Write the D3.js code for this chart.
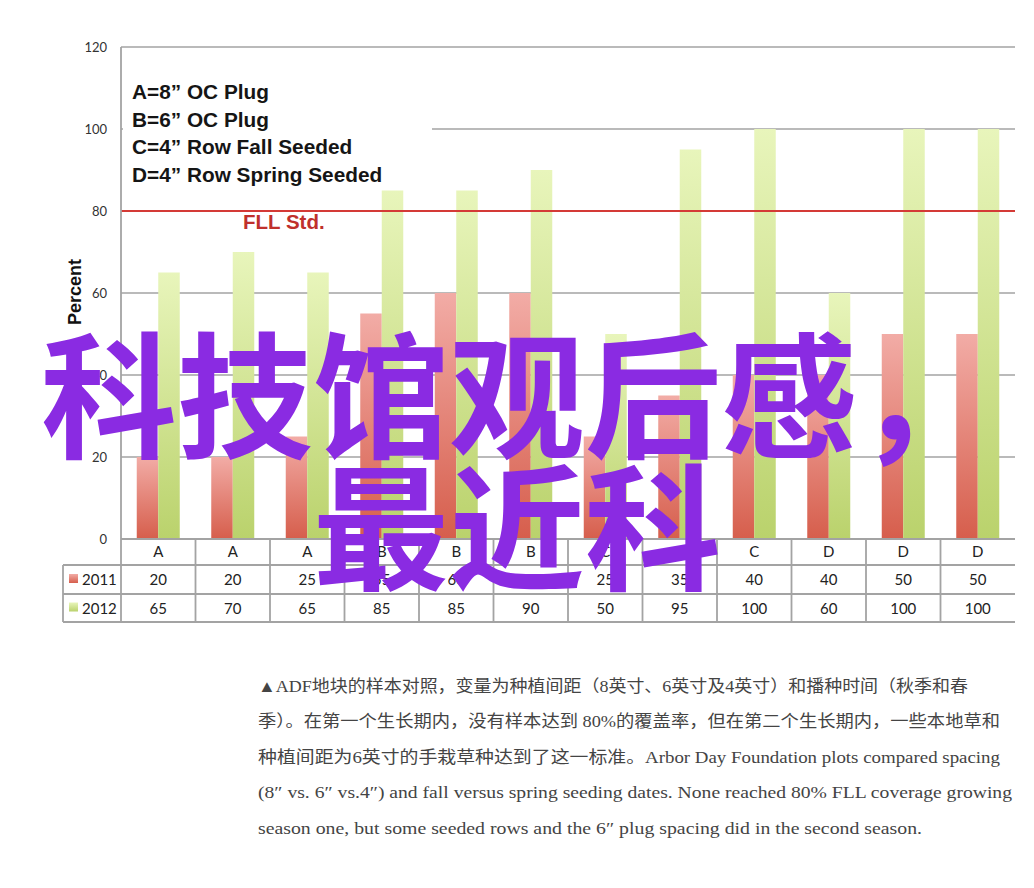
<!DOCTYPE html>
<html>
<head>
<meta charset="utf-8">
<script src="https://cdn.jsdelivr.net/npm/d3@7"></script>
<style>
  html, body { margin: 0; padding: 0; background: #fff; }
  svg { display: block; }
</style>
</head>
<body>
<div id="chart"></div>
<script>
// ---------- data ----------
const categories = ["A", "A", "A", "B", "B", "B", "C", "C", "C", "D", "D", "D"];
const seriesNames = ["2011", "2012"];
const values2011 = [20, 20, 25, 55, 60, 60, 25, 35, 40, 40, 50, 50];
const values2012 = [65, 70, 65, 85, 85, 90, 50, 95, 100, 60, 100, 100];
const yTicks = [0, 20, 40, 60, 80, 100, 120];
const fllStd = 80;
const fllLabel = "FLL Std.";
const yLabel = "Percent";
const legendLines = [
  "A=8\u201D OC Plug",
  "B=6\u201D OC Plug",
  "C=4\u201D Row Fall Seeded",
  "D=4\u201D Row Spring Seeded"
];
const overlayLines = ["科技馆观后感，", "最近科"];
const captionLines = [
  "▲ADF地块的样本对照，变量为种植间距（8英寸、6英寸及4英寸）和播种时间（秋季和春",
  "季）。在第一个生长期内，没有样本达到 80%的覆盖率，但在第二个生长期内，一些本地草和",
  "种植间距为6英寸的手栽草种达到了这一标准。Arbor Day Foundation plots compared spacing",
  "(8\u2033 vs. 6\u2033 vs.4\u2033) and fall versus spring seeding dates. None reached 80% FLL coverage growing",
  "season one, but some seeded rows and the 6\u2033 plug spacing did in the second season."
];
const captionWidths = [710, 742, 742, 754, 664];

// ---------- layout ----------
const W = 1034, H = 888;
const plotL = 121, plotR = 1015, plotT = 47, plotB = 539;
const tableL = 63, rowH1 = 565, rowH2 = 594, rowH3 = 622;

const svg = d3.select("#chart").append("svg")
  .attr("width", W).attr("height", H);

const defs = svg.append("defs");
const gRed = defs.append("linearGradient").attr("id", "gRed")
  .attr("x1", 0).attr("y1", 0).attr("x2", 0).attr("y2", 1);
gRed.append("stop").attr("offset", "0%").attr("stop-color", "#f2aca6");
gRed.append("stop").attr("offset", "100%").attr("stop-color", "#d65e4c");
const gGreen = defs.append("linearGradient").attr("id", "gGreen")
  .attr("x1", 0).attr("y1", 0).attr("x2", 0).attr("y2", 1);
gGreen.append("stop").attr("offset", "0%").attr("stop-color", "#e8f5bb");
gGreen.append("stop").attr("offset", "100%").attr("stop-color", "#bad26c");
const fills = { "2011": "url(#gRed)", "2012": "url(#gGreen)" };

const x = d3.scaleBand().domain(d3.range(categories.length)).range([plotL, plotR]);
const y = d3.scaleLinear().domain([0, 120]).range([plotB, plotT]);
const bw = x.bandwidth();
const x1 = d3.scaleBand().domain(seriesNames).range([bw / 2 - 21.5, bw / 2 + 21.5]);

const gridColor = "#a3a3a3";
const sans = "Lato, 'Liberation Sans', sans-serif";

// gridlines (not the FLL line)
svg.append("g").selectAll("line")
  .data(yTicks.filter(t => t > 0 && t !== fllStd))
  .join("line")
  .attr("x1", plotL).attr("x2", plotR)
  .attr("y1", d => y(d)).attr("y2", d => y(d))
  .attr("stroke", gridColor).attr("stroke-width", 1.6);

// y axis via d3 axis (labels only)
const yAxis = svg.append("g")
  .attr("transform", `translate(${plotL - 14},0)`)
  .call(d3.axisLeft(y).tickValues(yTicks).tickSize(0).tickPadding(0));
yAxis.select(".domain").remove();
yAxis.selectAll("text")
  .attr("font-family", sans).attr("font-size", 13).attr("fill", "#333");

// legend box (white) covering gridline
const legend = svg.append("g");
legend.append("rect")
  .attr("x", plotL + 2).attr("y", 68).attr("width", 309).attr("height", 122)
  .attr("fill", "#fff");
legend.selectAll("text").data(legendLines).join("text")
  .attr("x", 132).attr("y", (d, i) => 99 + i * 27.6)
  .attr("font-family", "'Liberation Sans', Arial, sans-serif")
  .attr("font-weight", "bold")
  .attr("font-size", 20.8).attr("fill", "#151515")
  .text(d => d);

// bars
const rows = seriesNames.map((s, si) => ({ name: s, values: si === 0 ? values2011 : values2012 }));
const barData = [];
categories.forEach((c, i) => rows.forEach(r => barData.push({ i, s: r.name, v: r.values[i] })));
svg.append("g").selectAll("rect").data(barData).join("rect")
  .attr("x", d => x(d.i) + x1(d.s))
  .attr("width", x1.bandwidth())
  .attr("y", d => y(d.v))
  .attr("height", d => y(0) - y(d.v))
  .attr("fill", d => fills[d.s]);

// FLL line + label
svg.append("line")
  .attr("x1", plotL).attr("x2", plotR)
  .attr("y1", y(fllStd)).attr("y2", y(fllStd))
  .attr("stroke", "#d43a36").attr("stroke-width", 2);
svg.append("text")
  .attr("x", 243).attr("y", y(fllStd) + 18)
  .attr("font-family", "'Liberation Sans', Arial, sans-serif")
  .attr("font-weight", "bold").attr("font-size", 20.5).attr("fill", "#c0302c")
  .text(fllLabel);

// y label
svg.append("text")
  .attr("transform", `translate(81,292) rotate(-90)`)
  .attr("text-anchor", "middle")
  .attr("font-family", "'Liberation Sans', Arial, sans-serif")
  .attr("font-weight", "bold").attr("font-size", 18).attr("fill", "#111")
  .text(yLabel);

// ---------- data table ----------
const tbl = svg.append("g");
const lineAttrs = sel => sel.attr("stroke", gridColor).attr("stroke-width", 1.8);
tbl.append("line").attr("x1", plotL).attr("x2", plotL).attr("y1", plotT).attr("y2", rowH3).call(lineAttrs);
tbl.append("line").attr("x1", plotL).attr("x2", plotR).attr("y1", plotB).attr("y2", plotB).call(lineAttrs);
[rowH1, rowH2, rowH3].forEach(yy =>
  tbl.append("line").attr("x1", tableL).attr("x2", plotR).attr("y1", yy).attr("y2", yy).call(lineAttrs));
tbl.append("line").attr("x1", tableL).attr("x2", tableL).attr("y1", rowH1).attr("y2", rowH3).call(lineAttrs);
tbl.selectAll("line.v").data(d3.range(1, categories.length)).join("line")
  .attr("class", "v")
  .attr("x1", d => x(d)).attr("x2", d => x(d))
  .attr("y1", plotB).attr("y2", rowH3).call(lineAttrs);

tbl.selectAll("text.cat").data(categories).join("text")
  .attr("class", "cat")
  .attr("x", (d, i) => x(i) + bw / 2).attr("y", (plotB + rowH1) / 2 + 5)
  .attr("text-anchor", "middle").attr("font-family", sans).attr("font-size", 15).attr("fill", "#222")
  .text(d => d);
const rowYs = [(rowH1 + rowH2) / 2 + 5.5, (rowH2 + rowH3) / 2 + 5.5];
rows.forEach((r, ri) => {
  tbl.selectAll("text.val" + ri).data(r.values).join("text")
    .attr("class", "val" + ri)
    .attr("x", (d, i) => x(i) + bw / 2).attr("y", rowYs[ri])
    .attr("text-anchor", "middle").attr("font-family", sans).attr("font-size", 15).attr("fill", "#222")
    .text(d => d);
  tbl.append("rect")
    .attr("x", 69).attr("y", rowYs[ri] - 11).attr("width", 9).attr("height", 9)
    .attr("fill", fills[r.name]);
  tbl.append("text")
    .attr("x", 82).attr("y", rowYs[ri])
    .attr("font-family", sans).attr("font-size", 15).attr("fill", "#222")
    .text(r.name);
});

// ---------- overlay title ----------
svg.append("g").selectAll("text").data(overlayLines).join("text")
  .attr("x", W / 2).attr("y", (d, i) => 448 + i * 132)
  .attr("text-anchor", "middle")
  .attr("font-family", "'Noto Sans CJK SC', sans-serif")
  .attr("font-weight", 700).attr("font-size", 136).attr("fill", "#8a2be2")
  .text(d => d);

// ---------- caption ----------
svg.append("g").selectAll("text").data(captionLines).join("text")
  .attr("x", 258).attr("y", (d, i) => 692 + i * 35.4)
  .attr("font-family", "'Liberation Serif', 'Noto Sans CJK SC', serif")
  .attr("font-size", 16.5).attr("fill", "#444")
  .attr("textLength", (d, i) => captionWidths[i])
  .attr("lengthAdjust", "spacingAndGlyphs")
  .text(d => d);
</script>
</body>
</html>
